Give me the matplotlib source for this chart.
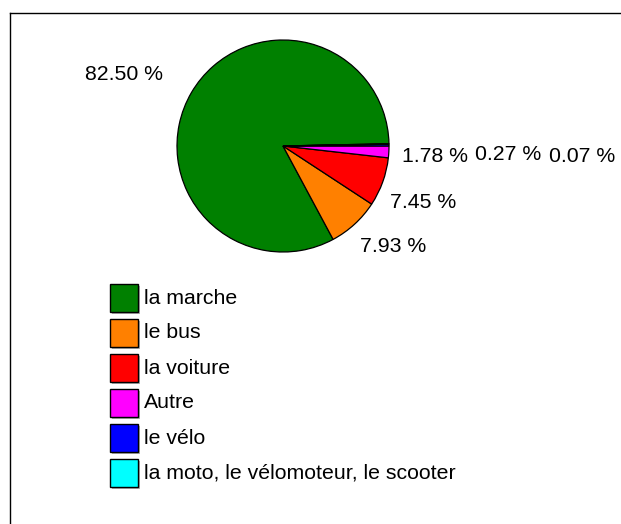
import matplotlib
matplotlib.use("Agg")
import matplotlib.pyplot as plt
from matplotlib.patches import Rectangle

plt.rcParams['font.family'] = ['Liberation Sans', 'DejaVu Sans']

categories = ["la marche", "le bus", "la voiture", "Autre", "le vélo",
              "la moto, le vélomoteur, le scooter"]
shares = [82.50, 7.93, 7.45, 1.78, 0.27, 0.07]
colors = ["#008000", "#FF8000", "#FF0000", "#FF00FF", "#0000FF", "#00FFFF"]

# label anchor points (pixel coords, y downward)
label_pos = [(124, 75), (393, 247), (423, 203), (435, 157), (508, 155), (582, 157)]

W, H = 621, 524
fig = plt.figure(figsize=(W / 100, H / 100), dpi=100)
ax = fig.add_axes([0, 0, 1, 1])

# frame lines along top and left
ax.plot([9.5, W], [H - 12.5, H - 12.5], color="black", lw=1)
ax.plot([9.5, 9.5], [0, H - 12.5], color="black", lw=1)

cx, cy, r = 283, H - 146, 106
total = sum(shares)
start = 360 - sum(shares[:4]) / total * 360
ax.pie(shares, colors=colors, startangle=start, counterclock=True,
       center=(cx, cy), radius=r, frame=True,
       wedgeprops=dict(edgecolor="black", linewidth=0.9))
ax.set_xlim(0, W)
ax.set_ylim(0, H)
ax.set_aspect("equal")
ax.axis("off")

for v, (x, y) in zip(shares, label_pos):
    ax.text(x, H - y, f"{v:.2f} %", ha="center", va="center", fontsize=15.3)

# legend
lx, ly0, step, sz = 110, 298, 35, 28
for i, (name, c) in enumerate(zip(categories, colors)):
    yc = ly0 + i * step
    ax.add_patch(Rectangle((lx + 1.5, H - yc - sz / 2 - 1.5), sz, sz,
                           facecolor="#b0b0b0", edgecolor="none"))
    ax.add_patch(Rectangle((lx, H - yc - sz / 2), sz, sz,
                           facecolor=c, edgecolor="black", lw=1))
    ax.text(lx + sz + 6, H - yc, name, ha="left", va="center", fontsize=15.3)

fig.savefig("out.png", dpi=100)
